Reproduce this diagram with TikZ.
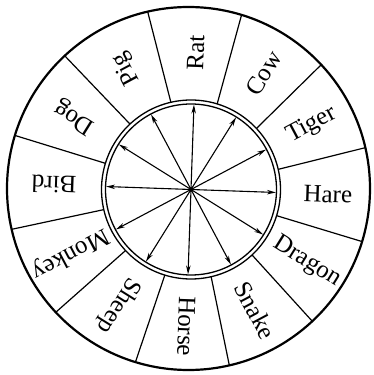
\documentclass[tikz,border=0pt]{standalone}
\usepackage{fontspec}
\setmainfont{Liberation Serif}
\usetikzlibrary{calc,arrows.meta}
\begin{document}
\begin{tikzpicture}[x=1pt,y=1pt,
  rim/.style={line width=2.2pt},
  ring/.style={line width=1.3pt},
  divider/.style={line width=1.2pt},
  spoke/.style={line width=1.1pt,-{Stealth[length=9pt,width=4.5pt]}},
  lab/.style={font=\fontsize{25}{29}\selectfont,inner sep=0pt}]
\useasboundingbox (0,0) rectangle (374,375);
\coordinate (O) at (188.5,186.5);
\coordinate (C) at (191,185.5);
\def\rot{-2}
% outer rim
\draw[rim] (O) circle (181.5);
% double ring
\draw[ring] (C) circle (89.5);
\draw[ring] (C) circle (85.5);
% dividers
\foreach \k in {0,...,11}{
  \pgfmathsetmacro\a{15+30*\k+\rot}
  \draw[divider] ($(C)+(\a:89.5)$) -- ($(O)+(\a:181.5)$);
}
% spokes
\foreach \k in {0,...,11}{
  \pgfmathsetmacro\a{30*\k+\rot}
  \draw[spoke] (C) -- ($(C)+(\a:85)$);
}
\fill (C) circle (2.4);
% labels
\foreach \ang/\name in {90/Rat,60/Cow,30/Tiger,0/Hare,-30/Dragon,-60/Snake,-90/Horse,-120/Sheep,-150/Monkey,180/Bird,150/Dog,120/Pig}{
  \pgfmathsetmacro\a{\ang+\rot}
  \node[lab,rotate=\a] (n\name) at ($(C)+(\a:137)$) {\name};
}
\end{tikzpicture}
\end{document}
